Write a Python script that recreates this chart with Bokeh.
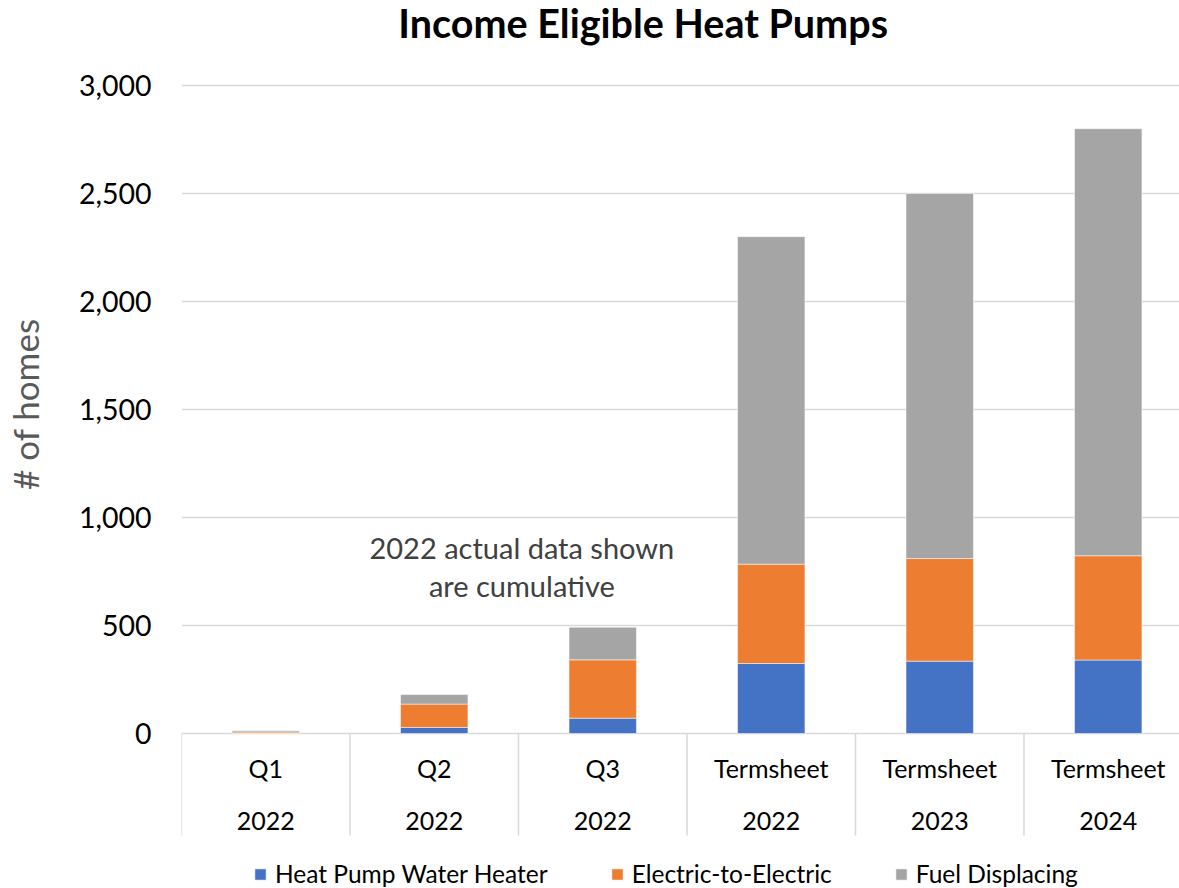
from bokeh.plotting import figure
from bokeh.models import (ColumnDataSource, FixedTicker, NumeralTickFormatter, Legend,
                          LegendItem, Range1d)
from bokeh.core.properties import value
from bokeh.embed import file_html
from bokeh.resources import INLINE

title_text = "Income Eligible Heat Pumps"
y_label = "# of homes"
categories = ["Q1", "Q2", "Q3", "Termsheet", "Termsheet", "Termsheet"]
years = ["2022", "2022", "2022", "2022", "2023", "2024"]
hpwh = [1, 28, 71, 324, 335, 340]
e2e = [6, 108, 270, 460, 475, 483]
fuel = [6, 44, 151, 1516, 1690, 1977]
series = ["Heat Pump Water Heater", "Electric-to-Electric", "Fuel Displacing"]
colors = ["#4472C4", "#ED7D31", "#A5A5A5"]
y_ticks = [0, 500, 1000, 1500, 2000, 2500, 3000]
note_lines = ["2022 actual data shown", "are cumulative"]

FONT = "Lato"
W, H = 1179, 888
n = len(categories)
xs = [i + 0.5 for i in range(n)]

src = ColumnDataSource(dict(x=xs, cat=categories, year=years,
                            hpwh=hpwh, e2e=e2e, fuel=fuel))

p = figure(width=W, height=H, output_backend="svg", toolbar_location=None,
           x_range=Range1d(0, 5.923), y_range=Range1d(-717.6, 3393.5),
           min_border_left=178, min_border_right=0, min_border_top=0, min_border_bottom=0)

p.outline_line_color = None
p.background_fill_color = "white"
p.xaxis.visible = False
p.xgrid.visible = False

p.yaxis.ticker = FixedTicker(ticks=y_ticks)
p.yaxis.formatter = NumeralTickFormatter(format="0,0")
p.yaxis.axis_line_color = None
p.yaxis.major_tick_line_color = None
p.yaxis.minor_tick_line_color = None
p.yaxis.major_label_text_font = FONT
p.yaxis.major_label_text_font_size = "28.5px"
p.yaxis.major_label_text_color = "#000000"
p.yaxis.major_label_standoff = 24
# leading no-break spaces lift the centred label to sit where the reference has it
p.yaxis.axis_label = "\u00a0" * 9 + y_label
p.yaxis.axis_label_text_font = FONT
p.yaxis.axis_label_text_font_size = "35px"
p.yaxis.axis_label_text_font_style = "normal"
p.yaxis.axis_label_text_color = "#595959"
p.yaxis.axis_label_standoff = 30
p.ygrid.ticker = FixedTicker(ticks=y_ticks)
p.ygrid.grid_line_color = "#d9d9d9"
p.ygrid.grid_line_width = 1.5

# chart title
p.text(x=[2.74], y=[3292], text=[title_text], text_align="center", text_baseline="middle",
       text_font=value(FONT), text_font_size="39.5px", text_font_style="bold",
       text_color="#000000")

rs = p.vbar_stack(["hpwh", "e2e", "fuel"], x="x", width=0.4, source=src,
                  color=colors, line_color="white", line_width=0.5)

# category axis separators and labels
p.segment(x0=list(range(n)), y0=[0] * n, x1=list(range(n)), y1=[-472] * n,
          line_color="#d9d9d9", line_width=1.5)
p.text(x="x", y=-162, text="cat", source=src, text_align="center", text_baseline="middle",
       text_font=value(FONT), text_font_size="25px", text_color="#000000")
p.text(x="x", y=-403, text="year", source=src, text_align="center", text_baseline="middle",
       text_font=value(FONT), text_font_size="25px", text_color="#000000")

p.text(x=[2.02, 2.02], y=[863, 683], text=note_lines, text_align="center",
       text_baseline="middle", text_font=value(FONT), text_font_size="29px",
       text_color="#404040")

legend = Legend(items=[LegendItem(label=s, renderers=[r]) for s, r in zip(series, rs)],
                orientation="horizontal", location=(72, 0),
                label_text_font=FONT, label_text_font_size="24.5px",
                label_text_color="#000000", glyph_width=14, glyph_height=14,
                label_standoff=8, spacing=62, border_line_color=None,
                background_fill_alpha=0, padding=0, margin=0)
p.add_layout(legend, "center")

open("out.html", "w").write(file_html(p, INLINE))
